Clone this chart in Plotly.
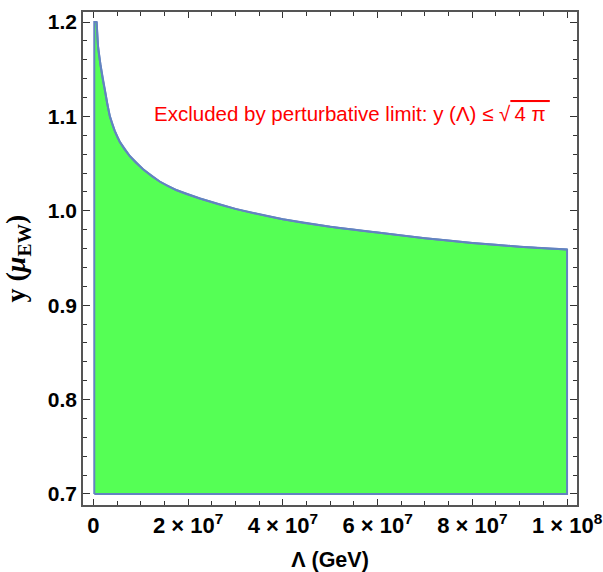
import plotly.graph_objects as go

# Upper bound on the coupling at the electroweak scale versus cutoff scale
lam_gev = [0.7e6, 1.0e6, 1.5e6, 2.0e6, 2.5e6, 3.0e6, 3.5e6, 4.5e6, 5.6e6,
           7.7e6, 10.5e6, 14e6, 17.5e6, 22.5e6, 30e6, 40e6, 50e6, 60e6,
           70e6, 80e6, 90e6, 100e6]
y_bound = [1.200, 1.174, 1.155, 1.139, 1.126, 1.112, 1.100, 1.085, 1.073,
           1.058, 1.044, 1.031, 1.022, 1.013, 1.002, 0.991, 0.983, 0.977,
           0.971, 0.966, 0.962, 0.959]

lam_min = 0.2e6          # left edge of the scanned region
y_floor = 0.7            # lower edge of the scanned region
y_ceiling = 1.2          # upper edge of the scanned region

x_tickvals = [0, 2e7, 4e7, 6e7, 8e7, 1e8]
x_ticktext = ["0", "2 × 10<sup>7</sup>", "4 × 10<sup>7</sup>",
              "6 × 10<sup>7</sup>", "8 × 10<sup>7</sup>", "1 × 10<sup>8</sup>"]
y_tickvals = [0.7, 0.8, 0.9, 1.0, 1.1, 1.2]
y_ticktext = ["0.7", "0.8", "0.9", "1.0", "1.1", "1.2"]

fill_color = "#55FF55"
edge_color = "#6383C0"

# Allowed region: filled polygon under the bound curve
poly_x = [lam_min, lam_min] + lam_gev + [lam_gev[-1], lam_min]
poly_y = [y_floor, y_ceiling] + y_bound + [y_floor, y_floor]

fig = go.Figure()
fig.add_trace(go.Scatter(
    x=poly_x, y=poly_y, mode="lines", fill="toself",
    fillcolor=fill_color, line=dict(color=edge_color, width=2),
    hoverinfo="skip", showlegend=False,
))
# Smooth rendering of the bound itself on top of the fill edge
fig.add_trace(go.Scatter(
    x=lam_gev, y=y_bound, mode="lines",
    line=dict(color=edge_color, width=2, shape="spline", smoothing=0.8),
    hoverinfo="skip", showlegend=False,
))

fig.add_annotation(
    x=5.455e7, y=1.1036, xref="x", yref="y", showarrow=False,
    xanchor="center", yanchor="middle",
    text="Excluded by perturbative limit: y (Λ) ≤ √<span style=\"text-decoration:overline\">\u20094 π\u2009</span>",
    font=dict(family="Liberation Sans", size=20.5, color="#FF0000"),
)

x_tick_font = dict(family="Liberation Sans", size=22, color="black", weight="bold")
y_tick_font = dict(family="Liberation Sans", size=21, color="black", weight="bold")
frame_color = "#555555"

fig.update_xaxes(
    range=[-2.18e6, 1.021e8], showgrid=False, zeroline=False, automargin=False,
    showline=True, linecolor=frame_color, linewidth=1.5, mirror="allticks",
    ticks="inside", ticklen=6, tickwidth=1, tickcolor="#333333",
    tickvals=x_tickvals, ticktext=x_ticktext, tickfont=x_tick_font,
    minor=dict(dtick=5e6, tick0=0, ticks="inside", ticklen=4,
               tickwidth=1, tickcolor="#333333", showgrid=False),
    title=dict(text="Λ (GeV)", standoff=18,
               font=dict(family="Liberation Sans", size=21.5, color="black",
                         weight="bold")),
)
fig.update_yaxes(
    range=[0.6883, 1.2106], showgrid=False, zeroline=False, automargin=False,
    showline=True, linecolor=frame_color, linewidth=1.5, mirror="allticks",
    ticks="inside", ticklen=7, tickwidth=1, tickcolor="#333333",
    tickvals=y_tickvals, ticktext=y_ticktext, tickfont=y_tick_font,
    minor=dict(dtick=0.02, tick0=0.7, ticks="inside", ticklen=4,
               tickwidth=1, tickcolor="#333333", showgrid=False),
    title=dict(text="y (<i>μ</i><sub>EW</sub>)", standoff=14,
               font=dict(family="Liberation Serif", size=28, color="black",
                         weight="bold")),
)

fig.update_layout(
    width=603, height=572,
    margin=dict(l=83, r=26, t=12, b=67),
    paper_bgcolor="white", plot_bgcolor="white",
)

fig.write_html("out.html")
